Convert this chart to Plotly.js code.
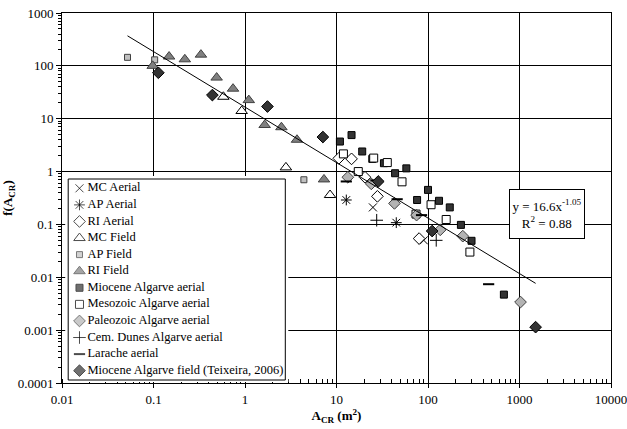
<!DOCTYPE html>
<html>
<head>
<meta charset="utf-8">
<script src="https://cdn.plot.ly/plotly-3.0.1.min.js"></script>
<style>html,body{margin:0;padding:0;background:#fff;}#chart{width:627px;height:429px;}</style>
</head>
<body>
<div id="chart"></div>
<script>
// ---- data ----
const seriesNames = ['MC Aerial', 'AP Aerial', 'RI Aerial', 'MC Field', 'AP Field', 'RI Field',
  'Miocene Algarve aerial', 'Mesozoic Algarve aerial', 'Paleozoic Algarve aerial',
  'Cem. Dunes Algarve aerial', 'Larache aerial', 'Miocene Algarve field (Teixeira, 2006)'];
const mcAerialX = [25, 90];
const mcAerialY = [0.21, 0.05];
const apAerialX = [12.8, 45];
const apAerialY = [0.29, 0.108];
const riAerialX = [10.6, 14.6, 20.5, 28, 80];
const riAerialY = [1.78, 1.74, 0.78, 0.34, 0.054];
const mcFieldX = [0.58, 0.92, 2.8, 8.5];
const mcFieldY = [26, 14, 1.2, 0.36];
const apFieldX = [0.052, 0.103, 4.4];
const apFieldY = [145, 130, 0.7];
const riFieldX = [0.098, 0.148, 0.22, 0.33, 0.49, 0.74, 1.1, 1.64, 2.5, 3.7, 7.3];
const riFieldY = [100, 150, 133, 163, 60, 37, 22.5, 7.6, 6.9, 4.0, 0.71];
const mioAerialX = [10.9, 14.6, 19.1, 24.6, 33, 43.7, 58, 100, 76, 132, 173, 229, 299, 675];
const mioAerialY = [3.7, 4.9, 2.4, 1.74, 1.44, 0.93, 1.15, 0.45, 0.29, 0.28, 0.21, 0.098, 0.049, 0.0047];
const mesoAerialX = [11.9, 17.3, 25.5, 35.9, 52, 108, 74, 158, 287];
const mesoAerialY = [2.16, 1.0, 1.8, 1.48, 0.64, 0.236, 0.157, 0.124, 0.030];
const paleoAerialX = [13.3, 24, 43, 75, 136, 240, 1026];
const paleoAerialY = [0.78, 0.585, 0.25, 0.15, 0.079, 0.06, 0.0034];
const cemDunesX = [27.5, 123];
const cemDunesY = [0.12, 0.05];
const laracheX = [12.8, 27, 46, 85, 460];
const laracheY = [0.65, 0.68, 0.30, 0.15, 0.0074];
const mioFieldX = [0.113, 0.44, 1.76, 7.1, 28.6, 111, 1500];
const mioFieldY = [74, 28, 17, 4.5, 0.65, 0.075, 0.00114];
// power-law trend line as stated on the chart: y = 16.6 x^-1.05, over the data range
const trendCoef = 16.6;
const trendExp = -1.05;
const trendX = [0.052, 1500];
const xTickVals = [0.01, 0.1, 1, 10, 100, 1000, 10000];
const xTickText = ['0.01', '0.1', '1', '10', '100', '1000', '10000'];
const yTickVals = [0.0001, 0.001, 0.01, 0.1, 1, 10, 100, 1000];
const yTickText = ['0.0001', '0.001', '0.01', '0.1', '1', '10', '100', '1000'];

// ---- styles ----
const FONT = '"Liberation Serif"';
const seriesX = [mcAerialX, apAerialX, riAerialX, mcFieldX, apFieldX, riFieldX, mioAerialX, mesoAerialX, paleoAerialX, cemDunesX, laracheX, mioFieldX];
const seriesY = [mcAerialY, apAerialY, riAerialY, mcFieldY, apFieldY, riFieldY, mioAerialY, mesoAerialY, paleoAerialY, cemDunesY, laracheY, mioFieldY];
const symbols = ['x-thin-open', 'asterisk-open', 'diamond', 'triangle-up', 'square', 'triangle-up',
  'square', 'square', 'diamond', 'cross-thin-open', 'line-ew-open', 'diamond'];
const sizes = [8, 9, 9, 10, 6, 10, 7, 8, 9, 9, 8, 9];
const fills = ['#000', '#000', '#fff', '#fff', '#c0c0c0', '#808080', '#333333', '#fff', '#b3b3b3', '#000', '#000', '#333333'];
const edges = ['#000', '#000', '#000', '#000', '#404040', '#404040', '#000', '#000', '#404040', '#000', '#000', '#000'];
const edgeW = [1, 1, 1, 1, 1, 1, 1, 1, 1, 1, 2, 1];

const traces = seriesNames.map((name, i) => ({
  type: 'scatter', mode: 'markers', name: name, x: seriesX[i], y: seriesY[i],
  showlegend: false, cliponaxis: false,
  marker: {symbol: symbols[i], size: sizes[i], color: fills[i], line: {color: edges[i], width: edgeW[i]}}
}));
traces.push({
  type: 'scatter', mode: 'lines', x: trendX, y: trendX.map(x => trendCoef * Math.pow(x, trendExp)),
  showlegend: false, hoverinfo: 'skip', line: {color: '#000', width: 1}
});

// ---- legend, drawn as its own little overlay panel (pixel units of the page) ----
const legBox = {left: 67.7, right: 285, top: 179, bottom: 380};
const legFirstRow = 188.3, legRowStep = 16.58, legSymbolX = 79, legTextX = 87;
const legRows = seriesNames.map((_, i) => legFirstRow + legRowStep * i);
traces.push({
  type: 'scatter', mode: 'lines', xaxis: 'x2', yaxis: 'y2', showlegend: false, hoverinfo: 'skip',
  x: [legBox.left, legBox.right, legBox.right, legBox.left, legBox.left],
  y: [legBox.top, legBox.top, legBox.bottom, legBox.bottom, legBox.top],
  fill: 'toself', fillcolor: '#fff', line: {color: '#000', width: 1}
});
traces.push({
  type: 'scatter', mode: 'markers', xaxis: 'x2', yaxis: 'y2', showlegend: false, cliponaxis: false,
  x: seriesNames.map(() => legSymbolX), y: legRows,
  marker: {symbol: symbols, size: sizes, color: fills, line: {color: edges, width: edgeW}}
});
traces.push({
  type: 'scatter', mode: 'text', xaxis: 'x2', yaxis: 'y2', showlegend: false, cliponaxis: false,
  x: seriesNames.map(() => legTextX), y: legRows, text: seriesNames, textposition: 'middle right',
  textfont: {family: FONT, size: 12.5, color: '#000'}
});

const W = 627, H = 429, ML = 61.5, MR = 16, MT = 13, MB = 46;
const PW = W - ML - MR, PH = H - MT - MB;
const panL = legBox.left - 3, panR = legBox.right + 3, panT = legBox.top - 3, panB = legBox.bottom + 2;

const layout = {
  width: W, height: H,
  margin: {l: ML, r: MR, t: MT, b: MB, pad: 0},
  paper_bgcolor: '#fff', plot_bgcolor: '#fff',
  font: {family: FONT, size: 13, color: '#000'},
  showlegend: false,
  xaxis: {
    type: 'log', range: [-2, 4],
    tickmode: 'array', tickvals: xTickVals, ticktext: xTickText,
    ticklabeloverflow: 'allow',
    showgrid: true, gridcolor: '#000', gridwidth: 1,
    showline: true, linecolor: '#000', linewidth: 1, mirror: true,
    ticks: 'outside', ticklen: 4, tickcolor: '#000',
    minor: {dtick: 'D1', ticks: 'inside', ticklen: 4, tickcolor: '#000', showgrid: false},
    zeroline: false,
    tickfont: {family: FONT, size: 13},
    title: {text: '<b>A<sub>CR</sub> (m<sup>2</sup>)</b>', font: {family: FONT, size: 13}, standoff: 4}
  },
  yaxis: {
    type: 'log', range: [-4, 3],
    tickmode: 'array', tickvals: yTickVals, ticktext: yTickText,
    ticklabeloverflow: 'allow',
    showgrid: true, gridcolor: '#000', gridwidth: 1,
    showline: true, linecolor: '#000', linewidth: 1, mirror: true,
    ticks: 'outside', ticklen: 5, tickcolor: '#000',
    minor: {dtick: 'D1', ticks: 'outside', ticklen: 3, tickcolor: '#000', showgrid: false},
    zeroline: false,
    tickfont: {family: FONT, size: 13},
    title: {text: '<b>f(A<sub>CR</sub>)</b>', font: {family: FONT, size: 13}, standoff: 6}
  },
  xaxis2: {
    visible: false, anchor: 'y2', range: [panL, panR],
    domain: [(panL - ML) / PW, (panR - ML) / PW], fixedrange: true
  },
  yaxis2: {
    visible: false, anchor: 'x2', range: [panB, panT],
    domain: [(H - MB - panB) / PH, (H - MB - panT) / PH], fixedrange: true
  },
  annotations: [{
    xref: 'paper', yref: 'paper', x: 0.8826, y: 0.4568, xanchor: 'center', yanchor: 'middle',
    text: 'y = 16.6x<sup>-1.05</sup><br>R<sup>2</sup> = 0.88',
    showarrow: false, align: 'center', valign: 'middle', width: 72, height: 46,
    font: {family: FONT, size: 13, color: '#000'},
    bgcolor: '#fff', bordercolor: '#000', borderwidth: 1, borderpad: 1
  }]
};

Plotly.newPlot('chart', traces, layout, {displayModeBar: false, staticPlot: true});
</script>
</body>
</html>
